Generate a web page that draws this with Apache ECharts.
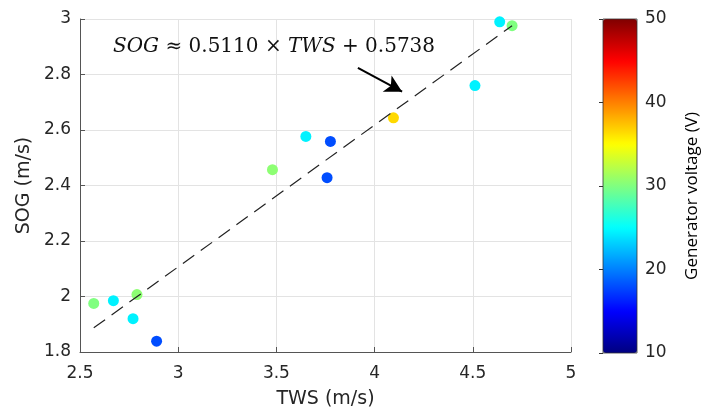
<!DOCTYPE html>
<html><head><meta charset="utf-8">
<script src="https://cdn.jsdelivr.net/npm/echarts@6/dist/echarts.min.js"></script>
<style>html,body{margin:0;padding:0;background:#fff}#c{width:703px;height:414px}</style>
</head><body><div id="c"></div>
<script>
// Data
const tws = [2.57, 2.67, 2.79, 2.77, 2.89, 3.48, 3.65, 3.775, 3.758, 4.096, 4.511, 4.637, 4.70];
const sog = [1.975, 1.985, 2.007, 1.920, 1.839, 2.457, 2.577, 2.559, 2.428, 2.644, 2.760, 2.990, 2.976];
const voltage = [30, 24.5, 30.5, 24.5, 18, 30.5, 24.5, 18, 18, 36.5, 24.5, 24.5, 30];
const fitLine = [[2.57, 1.887], [4.70, 2.976]];
const arrowPts = [[3.915, 2.824], [4.14, 2.738]];
const xTicks = [2.5, 3, 3.5, 4, 4.5, 5];
const yTicks = [1.8, 2, 2.2, 2.4, 2.6, 2.8, 3];
const cbTicks = [10, 20, 30, 40, 50];
const jet = ['#000080','#0000ff','#0080ff','#00ffff','#80ff80','#ffff00','#ff8000','#ff0000','#800000'];

const pts = tws.map((x, i) => [x, sog[i], voltage[i]]);
const font = '"DejaVu Sans", sans-serif';
const serif = '"DejaVu Serif", "Liberation Serif", serif';

const chart = echarts.init(document.getElementById('c'), null, {renderer: 'canvas'});
chart.setOption({
  animation: false,
  backgroundColor: '#fff',
  grid: [
    {left: 80, right: 132, top: 19, bottom: 61},
    {left: 603, width: 34, top: 19, height: 334, show: true, borderColor: '#333', borderWidth: 0.8, backgroundColor: 'transparent', z: 10}
  ],
  xAxis: [
    {type: 'value', gridIndex: 0, min: xTicks[0], max: xTicks[xTicks.length-1], interval: 0.5,
     name: 'TWS (m/s)', nameLocation: 'middle', nameGap: 38,
     nameTextStyle: {fontFamily: font, fontSize: 19, color: '#262626'},
     axisLine: {show: true, onZero: false, lineStyle: {color: '#555', width: 1}},
     axisTick: {show: true, inside: true, length: 5, lineStyle: {color: '#555'}},
     axisLabel: {fontFamily: font, fontSize: 17, color: '#262626', margin: 13},
     splitLine: {show: true, lineStyle: {color: '#e3e3e3', width: 1}}},
    {type: 'value', gridIndex: 1, show: false, min: 0, max: 1}
  ],
  yAxis: [
    {type: 'value', gridIndex: 0, min: yTicks[0], max: yTicks[yTicks.length-1], interval: 0.2,
     name: 'SOG (m/s)', nameLocation: 'middle', nameGap: 40, nameRotate: 90,
     nameTextStyle: {fontFamily: font, fontSize: 19, color: '#262626'},
     axisLine: {show: true, onZero: false, lineStyle: {color: '#555', width: 1}},
     axisTick: {show: true, inside: true, length: 5, lineStyle: {color: '#555'}},
     axisLabel: {fontFamily: font, fontSize: 17, color: '#262626', margin: 9,
       formatter: v => (Math.round(v*10)/10).toString()},
     splitLine: {show: true, lineStyle: {color: '#e3e3e3', width: 1}}},
    {type: 'value', gridIndex: 1, position: 'right', min: cbTicks[0], max: cbTicks[cbTicks.length-1], interval: 10,
     name: 'Generator voltage (V)', nameLocation: 'middle', nameGap: 47, nameRotate: 90,
     nameTextStyle: {fontFamily: '"Open Sans", "Noto Sans", sans-serif', fontSize: 17, color: '#000', padding: [0, 20, 0, 0]},
     axisLine: {show: false},
     axisTick: {show: true, inside: true, length: 4, lineStyle: {color: '#333'}},
     axisLabel: {fontFamily: font, fontSize: 17, color: '#262626', margin: 8},
     splitLine: {show: false}, z: 10}
  ],
  visualMap: {
    type: 'continuous', min: 10, max: 50, dimension: 2, seriesIndex: 0,
    left: 603, top: 19, itemWidth: 34, itemHeight: 334, padding: 0,
    calculable: false, showLabel: false, text: null,
    inRange: {color: jet}, orient: 'vertical'
  },
  series: [
    {type: 'scatter', xAxisIndex: 0, yAxisIndex: 0, data: pts, symbolSize: 11, z: 3,
     itemStyle: {opacity: 1}},
    {type: 'line', xAxisIndex: 0, yAxisIndex: 0, data: fitLine, symbol: 'none', z: 4,
     lineStyle: {color: '#222', width: 1.2, type: [14, 8]},
     markLine: {silent: true, symbol: ['none', 'arrow'], symbolSize: [14, 17],
       lineStyle: {color: '#000', width: 2, type: 'solid'}, label: {show: false},
       data: [[{coord: arrowPts[0]}, {coord: arrowPts[1]}]]}}
  ],
  graphic: [
    {type: 'text', left: 113, top: 37, z: 20,
     style: {text: '{i|SOG}{n| ≈ 0.5110 × }{i|TWS}{n| + 0.5738}',
       rich: {
         i: {fontFamily: serif, fontStyle: 'italic', fontSize: 20, fill: '#111'},
         n: {fontFamily: serif, fontSize: 20, fill: '#111'}
       }}}
  ]
});
</script></body></html>
